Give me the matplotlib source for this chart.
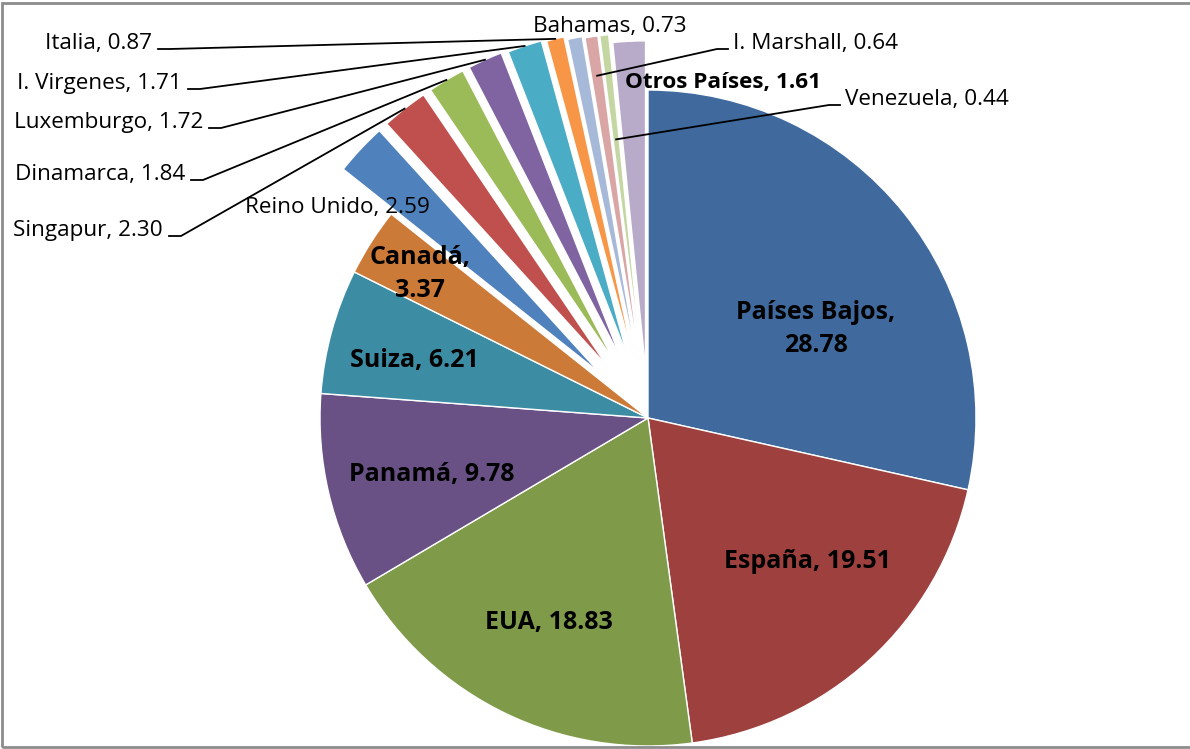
import numpy as np
import matplotlib.pyplot as plt
from matplotlib.patches import Rectangle

paises = ['Países Bajos', 'España', 'EUA', 'Panamá', 'Suiza', 'Canadá',
          'Reino Unido', 'Singapur', 'Dinamarca', 'Luxemburgo', 'I. Virgenes',
          'Italia', 'Bahamas', 'I. Marshall', 'Venezuela', 'Otros Países']
valores = [28.78, 19.51, 18.83, 9.78, 6.21, 3.37, 2.59, 2.30, 1.84, 1.72,
           1.71, 0.87, 0.73, 0.64, 0.44, 1.61]
colores = ['#406A9D', '#9E413E', '#7F9B4A', '#695186', '#3C8DA4', '#CC7A38',
           '#4F81BD', '#C0504D', '#9BBB59', '#8064A2', '#4BACC6', '#F79646',
           '#A7B9D9', '#D9A6A5', '#C4D7A3', '#B7ABC9']
separacion = [0, 0, 0, 0, 0, 0, 0.2, 0.2, 0.2, 0.2, 0.195, 0.19, 0.18,
              0.175, 0.175, 0.15]

W, H = 1190, 749
CX, CY, R = 648, 418, 328   # pie centre and radius in pixels


def px(x, y):
    # pixel position (from top left) -> data coords of the unit pie
    return (x - CX) / R, (CY - y) / R


fig = plt.figure(figsize=(W / 100, H / 100), dpi=100)
ax = fig.add_axes([0, 0, 1, 1])
wedges, _ = ax.pie(valores, colors=colores, explode=separacion,
                   startangle=90, counterclock=False, radius=1,
                   wedgeprops=dict(edgecolor='white', linewidth=1))
ax.set_xlim(-CX / R, (W - CX) / R)
ax.set_ylim(-(H - CY) / R, CY / R)
ax.set_aspect('equal')
ax.axis('off')

fuente = 'Open Sans'
negrita = dict(fontsize=18, fontweight='bold', family=fuente,
               ha='center', va='center', linespacing=1.45)
normal = dict(fontsize=16.2, family=fuente)

# bold labels inside the big slices
dentro = {0: (816, 329), 1: (807, 562), 2: (549, 622), 3: (432, 474),
          4: (414, 360), 5: (420, 274)}
for i, (x, y) in dentro.items():
    if i in (0, 5):
        txt = f'{paises[i]},\n{valores[i]:.2f}'
    else:
        txt = f'{paises[i]}, {valores[i]:.2f}'
    ax.text(*px(x, y), txt, **negrita)


def punto(i, f):
    w = wedges[i]
    t = np.deg2rad((w.theta1 + w.theta2) / 2)
    return w.center[0] + f * w.r * np.cos(t), w.center[1] + f * w.r * np.sin(t)


# labels on the left with leader lines (right edge, baseline)
izquierda = {11: (152, 49), 10: (182, 89), 9: (203, 128), 8: (185, 180),
             7: (163, 236)}
for i, (x, y) in izquierda.items():
    ax.text(*px(x, y), f'{paises[i]}, {valores[i]:.2f}', ha='right',
            va='baseline', **normal)
    x0, y0 = px(x + 6, y)
    x1, y1 = px(x + 18, y)
    x2, y2 = punto(i, 1.0)
    ax.plot([x0, x1, x2], [y0, y1, y2], color='black', lw=1.3)

# labels on the right with leader lines (left edge, baseline)
derecha = {13: ((733, 49), 0.88), 14: ((845, 105), 0.68)}
for i, ((x, y), f) in derecha.items():
    ax.text(*px(x, y), f'{paises[i]}, {valores[i]:.2f}', ha='left',
            va='baseline', **normal)
    x0, y0 = px(x - 5, y)
    x1, y1 = px(x - 16, y)
    x2, y2 = punto(i, f)
    ax.plot([x0, x1, x2], [y0, y1, y2], color='black', lw=1.3)

# labels without leader line (left edge, baseline)
ax.text(*px(533, 32), f'{paises[12]}, {valores[12]:.2f}', ha='left',
        va='baseline', **normal)
ax.text(*px(245, 213), f'{paises[6]}, {valores[6]:.2f}', ha='left',
        va='baseline', **normal)
ax.text(*px(625, 88), f'{paises[15]}, {valores[15]:.2f}', ha='left',
        va='baseline', fontsize=16.2, fontweight='bold', family=fuente)

# chart border
fig.patches.append(Rectangle((1.5 / W, 2.5 / H), 1.2, (746 - 2.5) / H,
                             transform=fig.transFigure, fill=False,
                             edgecolor='#8C8C8C', lw=2))

fig.savefig('out.png', dpi=100)
